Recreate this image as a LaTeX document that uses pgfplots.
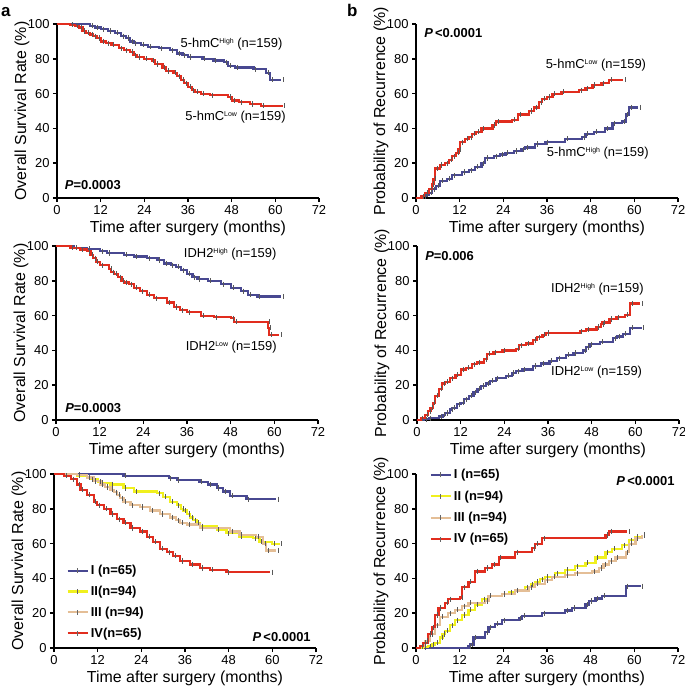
\documentclass[border=0pt]{standalone}
\usepackage{fontspec}
\setmainfont{Liberation Sans}
\usepackage{pgfplots}
\usepackage{pgfplotstable}
\pgfplotsset{compat=1.18}

\definecolor{kmblue}{RGB}{72,72,145}
\definecolor{kmred}{RGB}{225,45,30}
\definecolor{kmyellow}{RGB}{240,240,30}
\definecolor{kmtan}{RGB}{228,190,150}

\newcommand{\lf}{\fontsize{13}{15}\selectfont}
\newcommand{\hsup}[1]{\raisebox{0.6ex}{\fontsize{7}{7}\selectfont #1}}

\pgfplotsset{
  km/.style={
    scale only axis, width=262bp, height=174bp,
    xmin=0, xmax=72, ymin=0, ymax=100,
    axis lines=left, axis line style={-, line width=1.5bp},
    xtick={0,12,...,72}, ytick={0,20,...,100},
    tick align=outside, major tick length=4bp,
    tick style={black, line width=1.5bp},
    tick label style={font=\lf},
    /pgf/number format/assume math mode=true,
    xlabel={Time after surgery (months)},
    every axis x label/.style={at={([yshift=-30bp]axis description cs:0.5,0)}, anchor=center, font=\fontsize{16}{16}\selectfont},
    every axis y label/.style={at={([xshift=-35bp]axis description cs:0,0.5)}, anchor=center, rotate=90, font=\fontsize{16}{16}\selectfont},
    clip=false,
    legend image code/.code={
      \draw[##1] (0bp,0bp) -- (20bp,0bp);
      \draw[black!60, line width=0.8bp, solid] (10bp,-2.5bp) -- (10bp,2.5bp);},
    legend cell align=left,
    legend style={draw=none, fill=none, row sep=6bp, font=\bfseries\lf},
  },
  kmline/.style={const plot, line width=2.2bp},
  cens/.style={only marks, mark=|, mark size=2.6bp, mark options={black!65, line width=0.7bp},
    x filter/.expression={x+0.6}, skip coords between index={0}{1}},
}

% ---- panel a1: OS by 5-hmC
\pgfplotstableread{
t s
0 100
9 99
10.5 98
12 97
14 96
16 95
17.5 93
19 92
20 90
21 89
23 88
25 87
28 86
31 85
33 83
34.5 82
36 81
40 80
43 79
46 78
47 76
49 75
54 74
57.5 72
58.5 68
61.5 68
}\aOneHigh
\pgfplotstableread{
t s
0 100
3.5 99.5
5 99
6 98
7 96
8 95
9 94
10 93
11 92
12 90
13.5 89
15 88
17 86
18.5 85
20 84
21 82
22 81
24 80
26 79
27 77
29 75
30 73
32 72
33 70
34 68
35 66
36 64
37 62
38 61
39.5 60
42 59
47 58
48 56
50 55
53 54
56 53
62 53
}\aOneLow

% ---- panel b1: recurrence by 5-hmC
\pgfplotstableread{
t s
0 0
1.5 1
2.5 3
3.5 5
4.3 8
4.8 11
5.3 17
6.5 19
8 20
9 22
10 24
11 26
11.7 28
12.2 32
13.5 34
14.5 35
15.4 37
16.5 38
18 40
21 42
22 44
26.4 45
28 48
31 50
32.5 52
33.8 55
34.7 57
36 58
37.5 60
40 61
44.8 62
46.6 63
48.5 65
51 66
53 68
57 68
}\bOneLow
\pgfplotstableread{
t s
0 0
2 1
2.6 2
3.5 3
4.4 5
5.5 7
6.7 10
8.5 11
10 13
12.7 15
14.5 16
16.3 18
18 20
19 23
21.5 24
23 25
24.6 26
27 27
29 28
30 29
32.8 31
35.6 32
41 34
45.7 35
46.6 37
49 38
52 40
54 43
56.7 44
57.6 48
58.5 52
61 52
}\bOneHigh

% ---- panel a2: OS by IDH2
\pgfplotstableread{
t s
0 100
5 99
8.6 98.5
12.2 97
14 96
18.7 95
21.4 94
25 93
27.9 92
29.7 90
31.5 89
33 88
34.3 86
36.1 84
37.5 82
38.9 81
41.7 80
45.3 78
48 76
50.9 74
52.7 72
55.4 71
61.9 71
}\aTwoHigh
\pgfplotstableread{
t s
0 100
4 99
6.7 98
8.6 97
9.5 95
10.2 93
10.9 91
12.2 89
14.5 87
15.2 85
15.9 84
17 82
18 80
18.7 79
20 78
21.4 76
23 74
25 72
27 70
30.6 67.5
32.5 65
34 63
36.1 62
39.8 60
43.5 59
48.1 58.5
49 56.5
58 56.5
58.3 53
58.6 49
61.4 49
}\aTwoLow

% ---- panel b2: recurrence by IDH2
\pgfplotstableread{
t s
0 0
1 1
2.3 3
3 5
3.7 7
4.3 10
5 14
6 18
6.9 21
7.8 22
9 24
10.6 26
12 29
13.5 30
15.2 32
16.5 33
18.4 35
19.3 38
21 39
23.5 40
27.2 41
28 43
30 44
31.8 46
33 47.5
34.5 49
35.5 50
44.7 51
46.5 52
49.3 53.5
50.5 55
51 56
52.9 58
54.8 59
57.1 60.5
58.5 67
61.2 67
}\bTwoHigh
\pgfplotstableread{
t s
0 0
2 0.5
3.2 1
6 2
7 3
7.8 4
9 6
9.7 7
11 9
12 10
13 12
14.3 14
15.5 16
16.6 18
17.5 19.5
18.9 21
20 22.5
21.6 24
24.4 25.5
26 27
27.2 28
29 29
31.8 31
34 32.5
36.4 34
38.5 35.5
41 37.5
43 38.5
45.6 40
46.5 42
47.4 43.5
50.2 45
53.9 47
55 48
56.6 49.5
58.5 53
61.7 53
}\bTwoLow

% ---- panel a3: OS by stage
\pgfplotstableread{
t s
0 100
19.1 99
31.5 97.5
33.7 96.5
40 95.5
42.4 94
44.7 92
46.5 90
48.3 87.5
52.9 85.5
61 85.5
}\aThrI
\pgfplotstableread{
t s
0 100
6.4 99
9 98
10 97
12 95.5
12.8 95
15.5 94
19.1 92
21.9 90
28.3 89
30 87
31.9 84
33.7 82
35 80
35.5 79
36.5 77
37.4 75
38.3 73.5
39.2 72
40.1 70
44.7 68
47.4 66
51 64
54.7 63
56.5 61
60 60
62 60
}\aThrII
\pgfplotstableread{
t s
0 100
6.4 99.5
9.1 98
10.9 96
12.8 94
14 92.5
15.5 91
16.5 89.5
17.3 88
18.2 86
19.1 84
21 82
23.7 81
26.4 79
29.2 77
31.9 75
33.5 73.5
34.6 72
36.5 71
40.1 69
48.3 67
51 65
55.6 64
57.4 60
58.3 56
61 56
}\aThrIII
\pgfplotstableread{
t s
0 100
2.7 99
4.6 97
6.4 94
7.3 91
9.1 88
10.9 84
11.9 82
13.7 80
15.5 77
17.3 74
19.1 72
21 69
23.7 67
25.5 64
27.3 61
29.2 57
31 55
32.8 53
34.6 50
37.4 48
40.1 46
42.8 45
47.4 43.5
59.3 43.5
}\aThrIV

% ---- panel b3: recurrence by stage
\pgfplotstableread{
t s
0 0
14.4 1
14.9 2
15.8 6
19 9
19.9 12
21.8 14
23.6 16
28.2 17
29.1 18.5
34.6 20
41 21.5
42.9 23
46.6 25
47.5 27
49.3 28.5
51.1 30
57.6 35.5
61.7 35.5
}\bThrI
\pgfplotstableread{
t s
0 0
2 0.5
3.4 1
4.3 2
5.2 3
6.6 6
7.3 8
8 10
9.4 13
10.7 16
12.6 19
14.4 22
16.3 25
18.1 28
19.9 30
23.6 31
25.5 32
27.3 33
30 35
31.5 36.5
32.8 38
34 39.5
35.5 41
38.3 43
41 45
43.8 47
46.6 49
49.3 52
52.1 55
53.9 57
56.7 59
58.5 62
60.3 64
62.2 65
}\bThrII
\pgfplotstableread{
t s
0 0
1.1 1
2.5 4
3.9 8
5.2 13
6.6 18
8.9 20
10.7 22
12.6 24
14.4 26
19 27
19.9 30
23.6 31
27.3 33
31 35
32.8 37
35.5 39
37.4 41
41 42
43.8 43
48.4 44
50.2 46
51.5 48
53 50
54.8 52
57.6 55
58.5 60
60.3 63
62.2 65
}\bThrIII
\pgfplotstableread{
t s
0 0
1.1 1
2 3
3.4 8
4.3 12
5.2 19
6.2 23
8 26
8.9 28
12.1 29
12.6 35
14.4 38
16.3 44
19 46
20.8 48
22.7 52
27.3 55
31.9 57.5
32.8 60
34.6 63
52.1 65
53 67
58 67
}\bThrIV

\begin{document}
\begin{tikzpicture}
\useasboundingbox (0,0) rectangle (685bp,-689bp);
\node[anchor=base west, inner sep=0, font=\bfseries\fontsize{17}{17}\selectfont] at (1bp,-16bp) {a};
\node[anchor=base west, inner sep=0, font=\bfseries\fontsize{17}{17}\selectfont] at (347bp,-16bp) {b};

% a1
\begin{axis}[km, at={(57bp,-198bp)}, anchor=south west, ylabel={Overall Survival Rate (\%)}]
\addplot[kmline, kmblue] table[x=t, y=s] {\aOneHigh};
\addplot[kmline, kmred] table[x=t, y=s] {\aOneLow};
\addplot[cens, forget plot] table[x=t, y=s] {\aOneHigh};
\addplot[cens, forget plot] table[x=t, y=s] {\aOneLow};
\node[anchor=west, font=\lf] at (axis cs:33,88.6) {5-hmC\hsup{High} (n=159)};
\node[anchor=west, font=\lf] at (axis cs:34.3,46.3) {5-hmC\hsup{Low} (n=159)};
\node[anchor=west, font=\bfseries\lf] at (axis cs:1.2,7.4) {\textit{P}=0.0003};
\end{axis}

% b1
\begin{axis}[km, at={(416bp,-198bp)}, anchor=south west, ylabel={Probability of Recurrence (\%)}]
\addplot[kmline, kmblue] table[x=t, y=s] {\bOneHigh};
\addplot[kmline, kmred] table[x=t, y=s] {\bOneLow};
\addplot[cens, forget plot] table[x=t, y=s] {\bOneHigh};
\addplot[cens, forget plot] table[x=t, y=s] {\bOneLow};
\node[anchor=west, font=\lf] at (axis cs:34.7,76.4) {5-hmC\hsup{Low} (n=159)};
\node[anchor=west, font=\lf] at (axis cs:35,25.9) {5-hmC\hsup{High} (n=159)};
\node[anchor=west, font=\bfseries\lf] at (axis cs:1.3,95) {\textit{P}\,<0.0001};
\end{axis}

% a2
\begin{axis}[km, at={(56bp,-420bp)}, anchor=south west, ylabel={Overall Survival Rate (\%)}]
\addplot[kmline, kmblue] table[x=t, y=s] {\aTwoHigh};
\addplot[kmline, kmred] table[x=t, y=s] {\aTwoLow};
\addplot[cens, forget plot] table[x=t, y=s] {\aTwoHigh};
\addplot[cens, forget plot] table[x=t, y=s] {\aTwoLow};
\node[anchor=west, font=\lf] at (axis cs:34.2,95.2) {IDH2\hsup{High} (n=159)};
\node[anchor=west, font=\lf] at (axis cs:34.7,41.7) {IDH2\hsup{Low} (n=159)};
\node[anchor=west, font=\bfseries\lf] at (axis cs:1.6,7) {\textit{P}=0.0003};
\end{axis}

% b2
\begin{axis}[km, at={(417bp,-420bp)}, anchor=south west, ylabel={Probability of Recurrence (\%)}]
\addplot[kmline, kmblue] table[x=t, y=s] {\bTwoLow};
\addplot[kmline, kmred] table[x=t, y=s] {\bTwoHigh};
\addplot[cens, forget plot] table[x=t, y=s] {\bTwoLow};
\addplot[cens, forget plot] table[x=t, y=s] {\bTwoHigh};
\node[anchor=west, font=\lf] at (axis cs:35.9,75) {IDH2\hsup{High} (n=159)};
\node[anchor=west, font=\lf] at (axis cs:35.9,27.3) {IDH2\hsup{Low} (n=159)};
\node[anchor=west, font=\bfseries\lf] at (axis cs:1.3,94) {\textit{P}=0.006};
\end{axis}

% a3
\begin{axis}[km, at={(54bp,-648bp)}, anchor=south west, ylabel={Overall Survival Rate (\%)},
  legend style={at={(axis cs:2.6,50)}, anchor=north west}]
\addplot[kmline, kmblue] table[x=t, y=s] {\aThrI};
\addlegendentry{I (n=65)}
\addplot[kmline, kmyellow] table[x=t, y=s] {\aThrII};
\addlegendentry{II(n=94)}
\addplot[kmline, kmtan] table[x=t, y=s] {\aThrIII};
\addlegendentry{III (n=94)}
\addplot[kmline, kmred] table[x=t, y=s] {\aThrIV};
\addlegendentry{IV(n=65)}
\addplot[cens, forget plot] table[x=t, y=s] {\aThrI};
\addplot[cens, forget plot] table[x=t, y=s] {\aThrII};
\addplot[cens, forget plot] table[x=t, y=s] {\aThrIII};
\addplot[cens, forget plot] table[x=t, y=s] {\aThrIV};
\node[anchor=east, font=\bfseries\lf] at (axis cs:71.5,6.5) {\textit{P}\,<0.0001};
\end{axis}

% b3
\begin{axis}[km, at={(416bp,-648bp)}, anchor=south west, ylabel={Probability of Recurrence (\%)},
  legend style={at={(axis cs:2.9,105)}, anchor=north west, row sep=6.5bp}]
\addplot[kmline, kmblue] table[x=t, y=s] {\bThrI};
\addlegendentry{I (n=65)}
\addplot[kmline, kmyellow] table[x=t, y=s] {\bThrII};
\addlegendentry{II (n=94)}
\addplot[kmline, kmtan] table[x=t, y=s] {\bThrIII};
\addlegendentry{III (n=94)}
\addplot[kmline, kmred] table[x=t, y=s] {\bThrIV};
\addlegendentry{IV (n=65)}
\addplot[cens, forget plot] table[x=t, y=s] {\bThrI};
\addplot[cens, forget plot] table[x=t, y=s] {\bThrII};
\addplot[cens, forget plot] table[x=t, y=s] {\bThrIII};
\addplot[cens, forget plot] table[x=t, y=s] {\bThrIV};
\node[anchor=east, font=\bfseries\lf] at (axis cs:72,96) {\textit{P}\,<0.0001};
\end{axis}
\end{tikzpicture}
\end{document}
